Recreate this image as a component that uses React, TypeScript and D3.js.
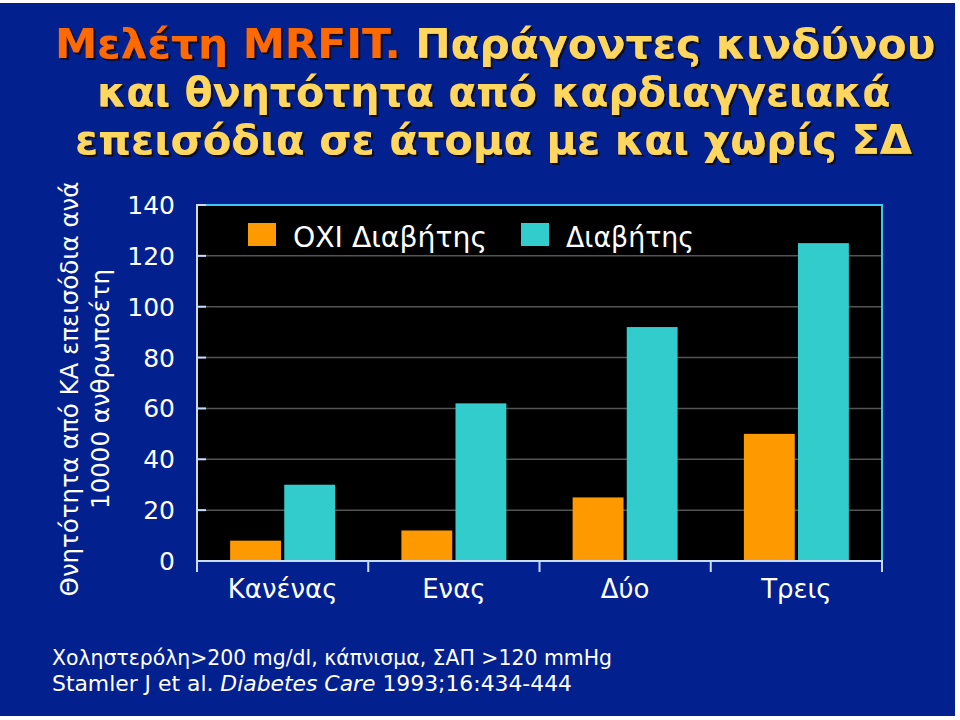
import React, { useLayoutEffect, useRef, useState } from "react";
import * as d3 from "d3";

const categories = ["Κανένας", "Ενας", "Δύο", "Τρεις"];
const seriesNames = ["ΟΧΙ Διαβήτης", "Διαβήτης"];
const noDiabetes = [8, 12, 25, 50];
const diabetes = [30, 62, 92, 125];
const yTicks = [0, 20, 40, 60, 80, 100, 120, 140];
const titleLines = [
  [
    { t: "Μελέτη MRFIT. ", c: "orange" },
    { t: "Παράγοντες κινδύνου", c: "yellow" },
  ],
  [{ t: "και θνητότητα από καρδιαγγειακά", c: "yellow" }],
  [{ t: "επεισόδια σε άτομα με και χωρίς ΣΔ", c: "yellow" }],
];
const yLabelLines = ["Θνητότητα από ΚΑ επεισόδια ανά", "10000 ανθρωποέτη"];
const footLine1 = "Χοληστερόλη>200 mg/dl, κάπνισμα, ΣΑΠ >120 mmHg";

const W = 960;
const H = 720;
const BG = "#03208f";
const ORANGE = "#ff9900";
const TEAL = "#33cccc";
const AXIS = "#c8dcff";
const FRAME = "#3cc8f0";
const GRID = "#555555";
const FONT = "'DejaVu Sans', Verdana, sans-serif";

const plot = { left: 197, right: 882, top: 205, bottom: 561 };

export default function App() {
  const titleRefs = useRef<(SVGTextElement | null)[]>([]);
  const [titleScale, setTitleScale] = useState<number[]>([0.8, 0.8, 0.8]);

  const titleWidths = [880, 793, 837];
  const titleX = [55, 97, 75];
  const titleY = [58, 106, 154];
  const colorOf = (c: string) => (c === "orange" ? "#ff6a00" : "#ffd75e");

  useLayoutEffect(() => {
    const s = titleRefs.current.map((el, i) => {
      if (!el) return 0.8;
      const w = el.getComputedTextLength();
      return w > 0 ? titleWidths[i] / w : 0.8;
    });
    setTitleScale(s);
  }, []);

  const x0 = d3
    .scaleBand<string>()
    .domain(categories)
    .range([plot.left, plot.right])
    .paddingInner(0.387)
    .paddingOuter(0.1935);
  const x1 = d3
    .scaleBand<string>()
    .domain(seriesNames)
    .range([0, x0.bandwidth()])
    .paddingInner(0.06);
  const y = d3.scaleLinear().domain([0, 140]).range([plot.bottom, plot.top]);
  const values = [noDiabetes, diabetes];
  const colors = [ORANGE, TEAL];
  const step = x0.step();
  const boundaries = d3.range(categories.length + 1).map((k) => plot.left + k * step);

  return (
    <svg
      width={W}
      height={H}
      style={{ position: "absolute", left: 0, top: 0, display: "block" }}
    >
      <defs>
        <filter id="shadow" x="-5%" y="-20%" width="110%" height="150%">
          <feDropShadow dx={2} dy={2} stdDeviation={0.6} floodColor="#111111" floodOpacity={1} />
        </filter>
      </defs>
      <rect x={0} y={0} width={W} height={H} fill="#ffffff" />
      <rect x={0} y={3} width={955} height={713} fill={BG} />

      {/* Title */}
      {titleLines.map((line, i) => (
        <g key={i} transform={`translate(${titleX[i]},${titleY[i]}) scale(${titleScale[i]},1)`}>
          <text
            ref={(el) => {
              titleRefs.current[i] = el;
            }}
            x={0}
            y={0}
            fontFamily={FONT}
            fontWeight="bold"
            fontSize={41}
            filter="url(#shadow)"
          >
            {line.map((seg, j) => (
              <tspan key={j} fill={colorOf(seg.c)}>
                {seg.t}
              </tspan>
            ))}
          </text>
        </g>
      ))}

      {/* Y label */}
      <g transform="translate(0,389)">
        {yLabelLines.map((l, i) => (
          <text
            key={i}
            transform={`translate(${78 + i * 31},0) rotate(-90)`}
            textAnchor="middle"
            fontFamily={FONT}
            fontSize={24.5}
            fill="#ffffff"
          >
            {l}
          </text>
        ))}
      </g>

      {/* Plot background */}
      <rect
        x={plot.left}
        y={plot.top}
        width={plot.right - plot.left}
        height={plot.bottom - plot.top}
        fill="#000000"
      />
      {/* Gridlines */}
      {yTicks
        .filter((t) => t > 0 && t < 140)
        .map((t) => (
          <line
            key={t}
            x1={plot.left}
            x2={plot.right}
            y1={y(t)}
            y2={y(t)}
            stroke={GRID}
            strokeWidth={1.5}
          />
        ))}

      {/* Bars */}
      {categories.map((c, ci) => (
        <g key={c} transform={`translate(${x0(c)},0)`}>
          {seriesNames.map((s, si) => (
            <rect
              key={s}
              x={x1(s)}
              y={y(values[si][ci])}
              width={x1.bandwidth()}
              height={y(0) - y(values[si][ci])}
              fill={colors[si]}
            />
          ))}
        </g>
      ))}

      {/* Frame top & right */}
      <line x1={plot.left} x2={plot.right + 1} y1={plot.top} y2={plot.top} stroke={FRAME} strokeWidth={2} />
      <line x1={plot.right} x2={plot.right} y1={plot.top} y2={plot.bottom} stroke={FRAME} strokeWidth={2} />
      {/* Axes */}
      <line x1={plot.left} x2={plot.left} y1={plot.top - 1} y2={plot.bottom + 1} stroke={AXIS} strokeWidth={2} />
      <line x1={plot.left} x2={plot.right + 1} y1={plot.bottom} y2={plot.bottom} stroke={AXIS} strokeWidth={2} />
      {yTicks.map((t) => (
        <g key={t}>
          <line x1={plot.left} x2={plot.left + 9} y1={y(t)} y2={y(t)} stroke={AXIS} strokeWidth={2} />
          <text
            x={175}
            y={y(t)}
            dy="0.36em"
            textAnchor="end"
            fontFamily={FONT}
            fontSize={25}
            fill="#ffffff"
          >
            {t}
          </text>
        </g>
      ))}
      {boundaries.map((bx, i) => (
        <line key={i} x1={bx} x2={bx} y1={plot.bottom} y2={plot.bottom + 11} stroke={AXIS} strokeWidth={2} />
      ))}
      {categories.map((c) => (
        <text
          key={c}
          x={(x0(c) as number) + x0.bandwidth() / 2}
          y={598}
          textAnchor="middle"
          fontFamily={FONT}
          fontSize={26}
          fill="#ffffff"
        >
          {c}
        </text>
      ))}

      {/* Legend */}
      {seriesNames.map((s, i) => {
        const lx = [248, 521][i];
        const tw = [194, 128][i];
        return (
          <g key={s}>
            <rect x={lx} y={223} width={28} height={23} fill={colors[i]} />
            <text
              x={lx + 45}
              y={247}
              fontFamily={FONT}
              fontSize={28}
              fill="#ffffff"
              textLength={tw}
              lengthAdjust="spacingAndGlyphs"
            >
              {s}
            </text>
          </g>
        );
      })}

      {/* Footnote */}
      <text
        x={52}
        y={665}
        fontFamily={FONT}
        fontSize={20.5}
        fill="#ffffff"
        textLength={560}
        lengthAdjust="spacingAndGlyphs"
      >
        {footLine1}
      </text>
      <text
        x={52}
        y={691}
        fontFamily={FONT}
        fontSize={20.5}
        fill="#ffffff"
        textLength={520}
        lengthAdjust="spacingAndGlyphs"
      >
        Stamler J et al. <tspan fontStyle="italic">Diabetes Care</tspan> 1993;16:434-444
      </text>
    </svg>
  );
}
